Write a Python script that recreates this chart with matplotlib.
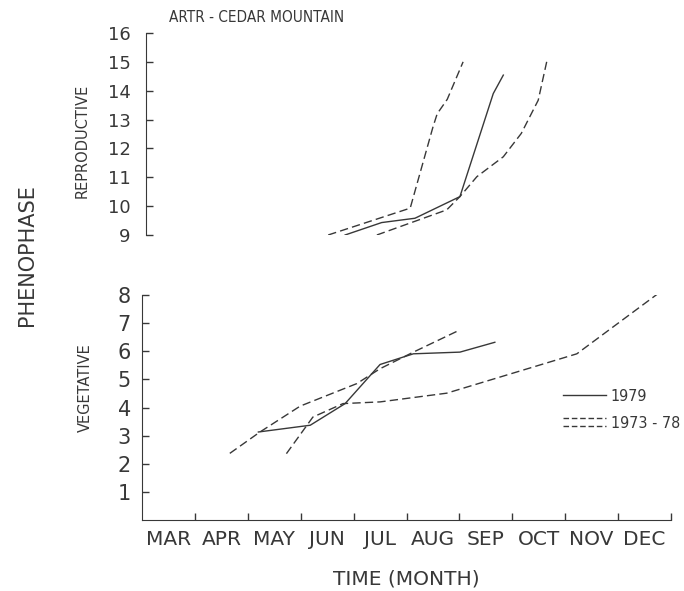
import numpy as np
import matplotlib.pyplot as plt
from matplotlib.lines import Line2D
from matplotlib.legend_handler import HandlerBase

# month axis: 3 = start of March ... 13 = end of December
months = ['MAR', 'APR', 'MAY', 'JUN', 'JUL', 'AUG', 'SEP', 'OCT', 'NOV', 'DEC']

# reproductive phenophase (9-16)
rep_79_x = [6.84, 7.53, 8.16, 9.01, 9.64, 9.83]
rep_79_y = [9.0, 9.43, 9.58, 10.33, 13.9, 14.54]
rep_7378a_x = [6.52, 8.07, 8.50, 8.58, 8.77, 9.07]
rep_7378a_y = [9.0, 9.93, 12.74, 13.2, 13.7, 15.0]
rep_7378b_x = [7.44, 8.76, 9.01, 9.33, 9.83, 10.17, 10.49, 10.65]
rep_7378b_y = [9.0, 9.87, 10.33, 11.02, 11.71, 12.52, 13.67, 15.0]

# vegetative phenophase (1-8)
veg_79_x = [5.20, 6.18, 6.84, 7.50, 8.13, 9.01, 9.67]
veg_79_y = [3.13, 3.37, 4.14, 5.53, 5.91, 5.97, 6.32]
veg_7378a_x = [4.66, 5.23, 5.99, 7.06, 7.50, 8.13, 9.01]
veg_7378a_y = [2.37, 3.13, 4.05, 4.85, 5.38, 5.97, 6.76]
veg_7378b_x = [5.73, 6.23, 6.80, 7.50, 8.76, 11.22, 12.79]
veg_7378b_y = [2.36, 3.66, 4.14, 4.20, 4.51, 5.91, 8.10]

ink = '#383838'
lw = 1.0
dash = (6, 3)


class DoubleDash(HandlerBase):
    """two stacked dashed strokes, as hand drawn on the original"""
    def create_artists(self, legend, orig_handle, xdescent, ydescent,
                       width, height, fontsize, trans):
        lines = []
        for frac in (0.85, 0.15):
            ln = Line2D([-xdescent, width - xdescent],
                        [height * frac - ydescent] * 2,
                        color=ink, lw=lw, dashes=(4, 2))
            ln.set_transform(trans)
            lines.append(ln)
        return lines


fig = plt.figure(figsize=(6.84, 5.91), dpi=100)
ax_top = fig.add_axes([0.2076, 0.6024, 0.7734, 0.3418])
ax_bot = fig.add_axes([0.2076, 0.1201, 0.7734, 0.3807])

# --- top panel ---
ax_top.plot(rep_79_x, rep_79_y, color=ink, lw=lw)
ax_top.plot(rep_7378a_x, rep_7378a_y, color=ink, lw=lw, dashes=dash)
ax_top.plot(rep_7378b_x, rep_7378b_y, color=ink, lw=lw, dashes=dash)
ax_top.set_xlim(3, 13)
ax_top.set_ylim(9, 16)
for s in ['top', 'right', 'bottom']:
    ax_top.spines[s].set_visible(False)
ax_top.spines['left'].set_position(('data', 3.076))
ax_top.spines['left'].set_color(ink)
ax_top.set_yticks(range(9, 17))
ax_top.tick_params(axis='y', direction='in', length=5, width=1, color=ink,
                   labelsize=13, pad=11, labelcolor=ink)
ax_top.tick_params(axis='x', bottom=False, labelbottom=False)
ax_top.patch.set_alpha(0)

# --- bottom panel ---
l1, = ax_bot.plot(veg_79_x, veg_79_y, color=ink, lw=lw)
l2, = ax_bot.plot(veg_7378a_x, veg_7378a_y, color=ink, lw=lw, dashes=dash)
ax_bot.plot(veg_7378b_x, veg_7378b_y, color=ink, lw=lw, dashes=dash)
ax_bot.set_xlim(3, 13)
ax_bot.set_ylim(0, 8)
for s in ['top', 'right']:
    ax_bot.spines[s].set_visible(False)
for s in ['left', 'bottom']:
    ax_bot.spines[s].set_color(ink)
ax_bot.set_yticks(range(1, 9))
ax_bot.set_xticks(range(4, 14))
ax_bot.set_xticklabels([])
ax_bot.set_xticks(np.arange(3.5, 13, 1.0), minor=True)
ax_bot.set_xticklabels(months, minor=True)
ax_bot.tick_params(axis='both', which='major', direction='in', length=5,
                   width=1, color=ink, labelcolor=ink)
ax_bot.tick_params(axis='y', labelsize=15, pad=8)
ax_bot.tick_params(axis='x', which='minor', length=0, labelsize=14.5, pad=7,
                   labelcolor=ink)
ax_bot.set_xlabel('TIME (MONTH)', fontsize=14.5, color=ink, labelpad=15)

leg = ax_bot.legend([l1, l2], ['1979', '1973 - 78'],
                    handler_map={l2: DoubleDash()},
                    loc='upper left', bbox_to_anchor=(563 / 684, 1 - 389 / 591),
                    bbox_transform=fig.transFigure, frameon=False,
                    handlelength=2.7, handletextpad=0.3, labelspacing=0.75,
                    borderpad=0, borderaxespad=0,
                    prop=dict(family='DejaVu Sans', stretch='condensed', size=11.5))
for t in leg.get_texts():
    t.set_color(ink)

# --- side and title text ---
fig.text(27 / 684, 1 - 255 / 591, 'PHENOPHASE', rotation=90, fontsize=15,
         color=ink, ha='center', va='center')
fig.text(82 / 684, 1 - 141 / 591, 'REPRODUCTIVE', rotation=90, fontsize=10.5,
         color=ink, ha='center', va='center')
fig.text(85 / 684, 1 - 388 / 591, 'VEGETATIVE', rotation=90, fontsize=10.5,
         color=ink, ha='center', va='center')
fig.text(257 / 684, 1 - 17 / 591, 'ARTR - CEDAR MOUNTAIN', fontsize=11,
         stretch='condensed', color=ink, ha='center', va='center')

fig.savefig('out.png', dpi=100, facecolor='white')
